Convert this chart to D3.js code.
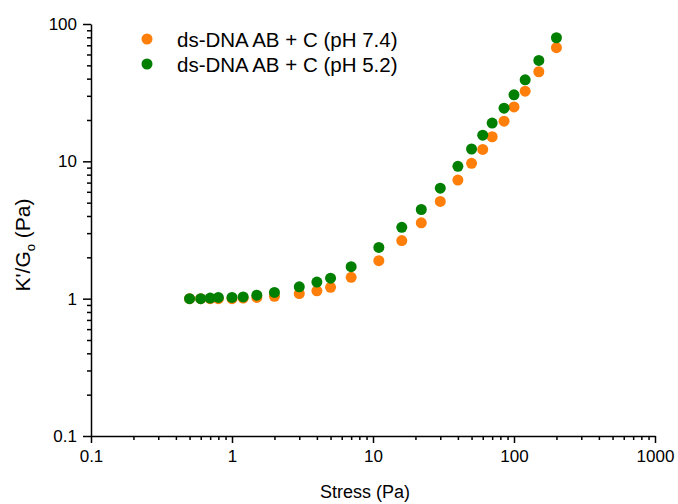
<!DOCTYPE html>
<html>
<head>
<meta charset="utf-8">
<script src="https://cdn.jsdelivr.net/npm/d3@7"></script>
<style>
  body { margin: 0; background: #fff; }
  svg { font-family: Arial, "Liberation Sans", sans-serif; }
  .axis path, .axis line { stroke: #000; stroke-width: 1.5px; }
  .axis text { font-size: 17px; fill: #000; }
</style>
</head>
<body>
<div id="chart"></div>
<script>
// data
const stress = [0.5, 0.6, 0.7, 0.8, 1, 1.2, 1.5, 2, 3, 4, 5, 7, 11, 16, 22, 30, 40, 50, 60, 70, 85, 100, 120, 150, 200];
const ph74 = [1.0, 1.0, 1.0, 1.0, 1.0, 1.01, 1.02, 1.04, 1.09, 1.14, 1.21, 1.43, 1.89, 2.65, 3.57, 5.11, 7.3, 9.67, 12.2, 15.1, 19.6, 24.9, 32.4, 44.9, 67.2];
const ph52 = [1.0, 1.0, 1.01, 1.02, 1.02, 1.03, 1.06, 1.11, 1.22, 1.32, 1.41, 1.71, 2.36, 3.31, 4.46, 6.38, 9.2, 12.3, 15.5, 19.0, 24.4, 30.5, 39.2, 54.3, 79.4];
const seriesNames = ["ds-DNA AB + C (pH 7.4)", "ds-DNA AB + C (pH 5.2)"];
const xTicks = [0.1, 1, 10, 100, 1000];
const yTicks = [0.1, 1, 10, 100];

const colors = ["#ff7f0a", "#007f00"];

const W = 678, H = 504;
const svg = d3.select("#chart")
    .append("svg")
    .attr("width", W)
    .attr("height", H);

const x = d3.scaleLog().domain([0.1, 1000]).range([91, 655]);
const y = d3.scaleLog().domain([0.1, 100]).range([436, 24]);

// minor tick values (2..9 of each decade)
function minors(lo, hi) {
    const out = [];
    for (let d = lo; d < hi; d *= 10) {
        for (let k = 2; k <= 9; k++) out.push(d * k);
    }
    return out;
}

// x axis
svg.append("g")
    .attr("class", "axis")
    .attr("transform", `translate(0, ${y(0.1)})`)
    .call(d3.axisBottom(x).tickValues(minors(0.1, 1000)).tickSize(4).tickSizeOuter(0).tickFormat(""));
svg.append("g")
    .attr("class", "axis")
    .attr("transform", `translate(0, ${y(0.1)})`)
    .call(d3.axisBottom(x).tickValues(xTicks).tickSize(7).tickSizeOuter(0).tickPadding(7).tickFormat(d => String(d)))
    .call(g => g.select(".domain").remove());

// y axis
svg.append("g")
    .attr("class", "axis")
    .attr("transform", `translate(${x(0.1)}, 0)`)
    .call(d3.axisLeft(y).tickValues(minors(0.1, 100)).tickSize(4).tickSizeOuter(0).tickFormat(""));
svg.append("g")
    .attr("class", "axis")
    .attr("transform", `translate(${x(0.1)}, 0)`)
    .call(d3.axisLeft(y).tickValues(yTicks).tickSize(8).tickSizeOuter(0).tickPadding(6).tickFormat(d => String(d)))
    .call(g => g.select(".domain").remove());

// points (orange under green)
[ph74, ph52].forEach((vals, i) => {
    svg.append("g")
        .selectAll("circle")
        .data(stress.map((s, j) => [s, vals[j]]))
        .join("circle")
        .attr("cx", d => x(d[0]))
        .attr("cy", d => y(d[1]))
        .attr("r", 5.5)
        .attr("fill", colors[i]);
});

// legend
seriesNames.forEach((name, i) => {
    svg.append("circle")
        .attr("cx", 147)
        .attr("cy", 39 + i * 25)
        .attr("r", 5.5)
        .attr("fill", colors[i]);
    svg.append("text")
        .attr("x", 177)
        .attr("y", 46.5 + i * 25)
        .style("font-size", "20.5px")
        .text(name);
});

// axis titles
svg.append("text")
    .attr("x", 365)
    .attr("y", 498)
    .attr("text-anchor", "middle")
    .style("font-size", "18px")
    .text("Stress (Pa)");

const yl = svg.append("text")
    .attr("transform", "translate(30, 245) rotate(-90)")
    .attr("text-anchor", "middle")
    .style("font-size", "21px");
yl.append("tspan").text("K'/G");
yl.append("tspan").attr("dy", 5).style("font-size", "13px").text("o");
yl.append("tspan").attr("dy", -5).text(" (Pa)");
</script>
</body>
</html>
